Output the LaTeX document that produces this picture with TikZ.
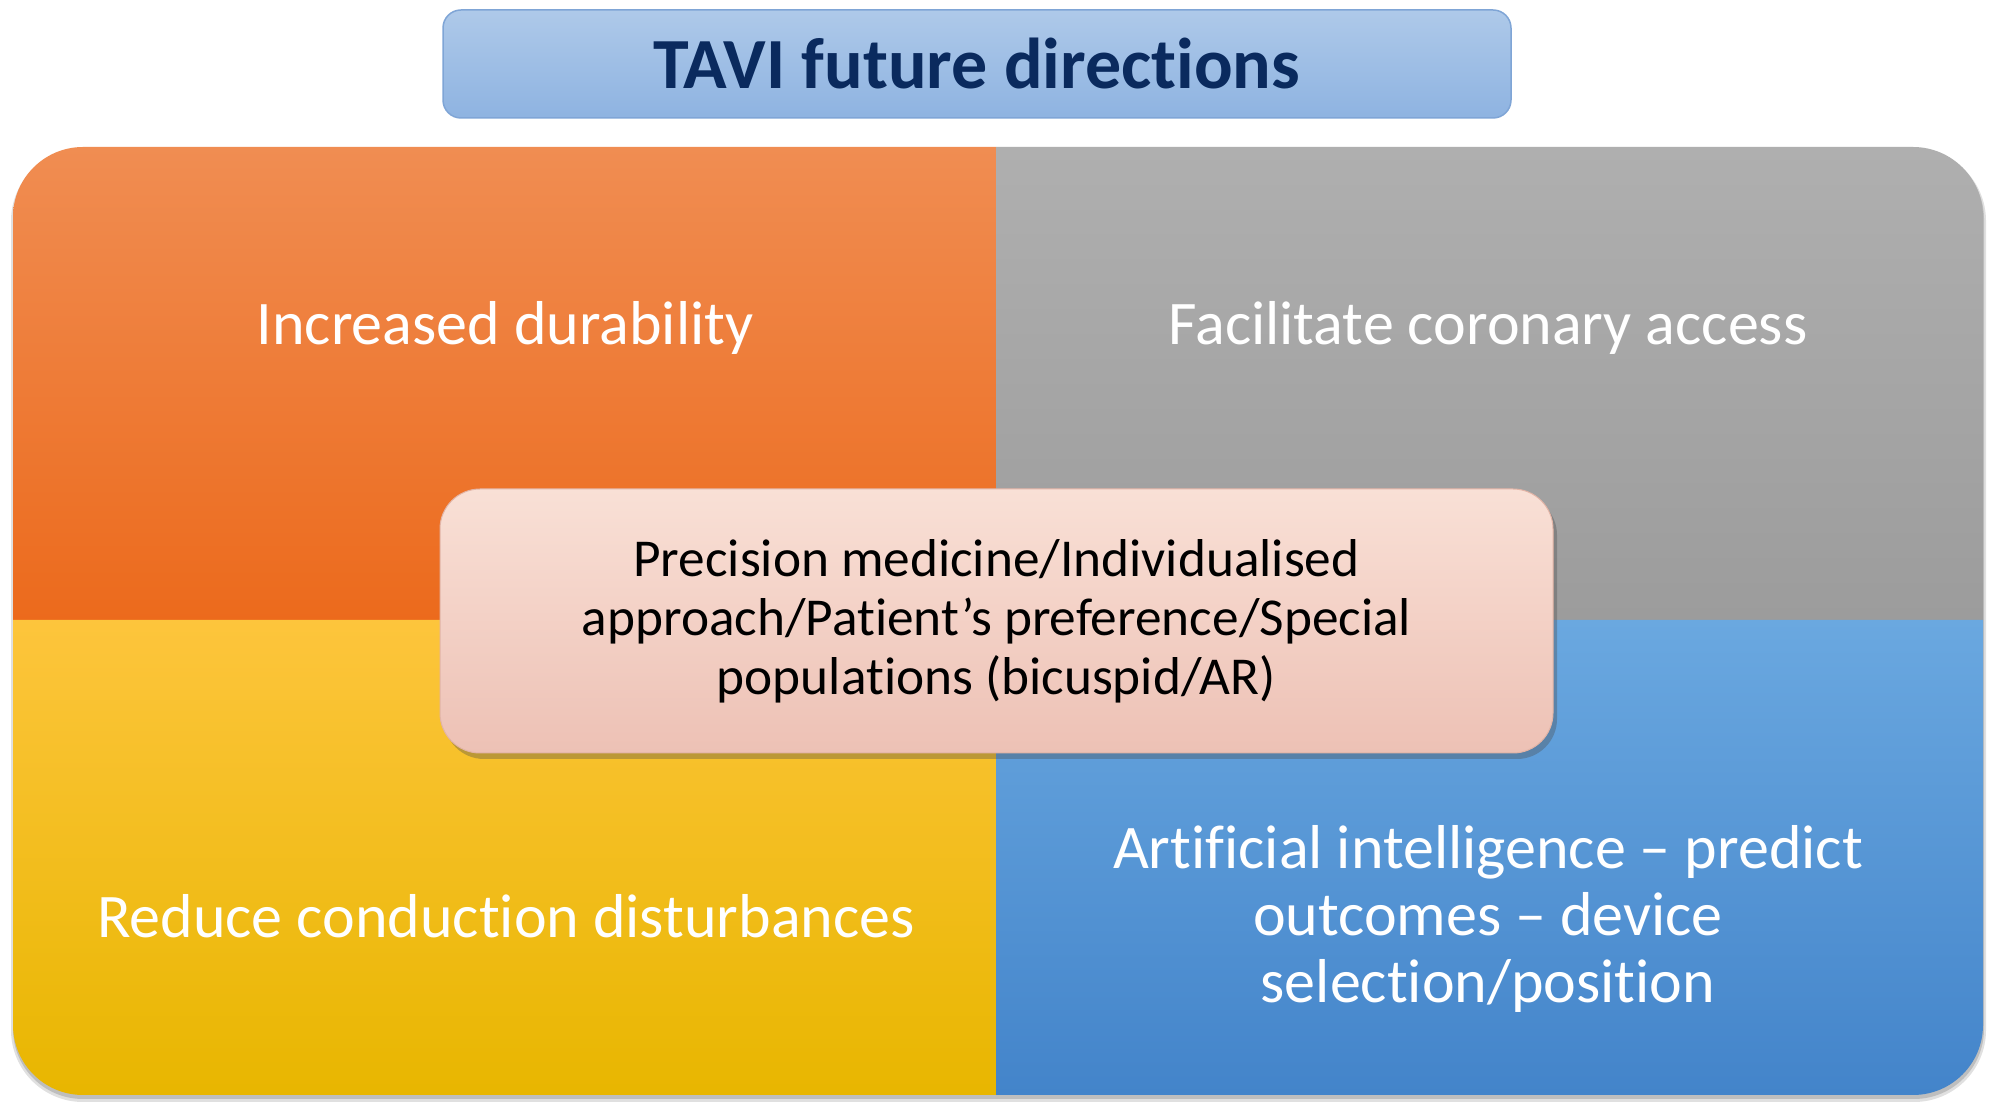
\documentclass[tikz,border=0pt]{standalone}
\usepackage{fontspec}
\setmainfont{Carlito}[Ligatures={TeX,NoCommon}]
\usetikzlibrary{shadows}
\newcommand\tx{t\kern0pt i}
\definecolor{orTop}{HTML}{F08D52}
\definecolor{orBot}{HTML}{EC6A1C}
\definecolor{grTop}{HTML}{AFAFAF}
\definecolor{grBot}{HTML}{9C9C9C}
\definecolor{yeTop}{HTML}{FDC53C}
\definecolor{yeBot}{HTML}{E8B600}
\definecolor{blTop}{HTML}{6AA8E0}
\definecolor{blBot}{HTML}{4384CA}
\definecolor{pkTop}{HTML}{F9E0D6}
\definecolor{pkBot}{HTML}{EDC1B5}
\definecolor{pkEdge}{HTML}{E2B4A6}
\definecolor{tiTop}{HTML}{AEC9E9}
\definecolor{tiBot}{HTML}{8EB3E1}
\definecolor{tiEdge}{HTML}{7FA5D6}
\definecolor{navy}{HTML}{0A2A5E}
\tikzset{
  quadtext/.style={text=white,font=\fontsize{62}{67}\selectfont,align=center,inner sep=0pt},
  titlebox/.style={rounded corners=18pt,top color=tiTop,bottom color=tiBot,draw=tiEdge,line width=1.5pt,
     minimum width=1068pt,minimum height=108pt,text=navy,font=\bfseries\fontsize{72}{78}\selectfont},
  centerbox/.style={rounded corners=40pt,top color=pkTop,bottom color=pkBot,draw=pkEdge,line width=1pt,
     minimum width=1113pt,minimum height=264pt,align=center,text=black,font=\fontsize{53.3}{59}\selectfont,
     drop shadow={shadow xshift=4pt,shadow yshift=-6pt,opacity=.35,fill=black!70}}
}
\begin{document}
\begin{tikzpicture}[x=1pt,y=1pt]
\useasboundingbox (0,0) rectangle (1995,1114);
\fill[white] (0,0) rectangle (1995,1114);
% shadow of main block
\fill[black,opacity=.12,rounded corners=72pt] (11,12) rectangle (1986,965);
\fill[black,opacity=.15,rounded corners=70pt] (13,15) rectangle (1984,965);
% quadrants
\shade[top color=orTop,bottom color=orBot] (13,494) -- (13,897) arc[start angle=180,end angle=90,radius=70] -- (996,967) -- (996,494) -- cycle;
\shade[top color=grTop,bottom color=grBot] (996,494) -- (996,967) -- (1913,967) arc[start angle=90,end angle=0,radius=70] -- (1983,494) -- cycle;
\shade[top color=yeTop,bottom color=yeBot] (13,494) -- (996,494) -- (996,19) -- (83,19) arc[start angle=270,end angle=180,radius=70] -- cycle;
\shade[top color=blTop,bottom color=blBot] (996,494) -- (1983,494) -- (1983,89) arc[start angle=0,end angle=-90,radius=70] -- (996,19) -- cycle;
% quadrant texts
\node[quadtext,anchor=base] (dur) at (505,769) {Increased durability};
\node[quadtext,anchor=base] (cor) at (1488,769) {Facilitate coronary access};
\node[quadtext,anchor=base] (cond) at (506,176) {Reduce conduc\tx on disturbances};
\node[quadtext] (ai) at (1488,195) {Ar\tx f\kern0pt icial intelligence – predict\\outcomes – device\\selec\tx on/posi\tx on};
% center box
\node[centerbox] (prec) at (996.5,493) {Precision medicine/Individualised\\approach/Pa\tx ent’s preference/Special\\popula\tx ons (bicuspid/AR)};
% title
\node[titlebox] (title) at (977,1050) {TAVI future direc\tx ons};
\end{tikzpicture}
\end{document}
